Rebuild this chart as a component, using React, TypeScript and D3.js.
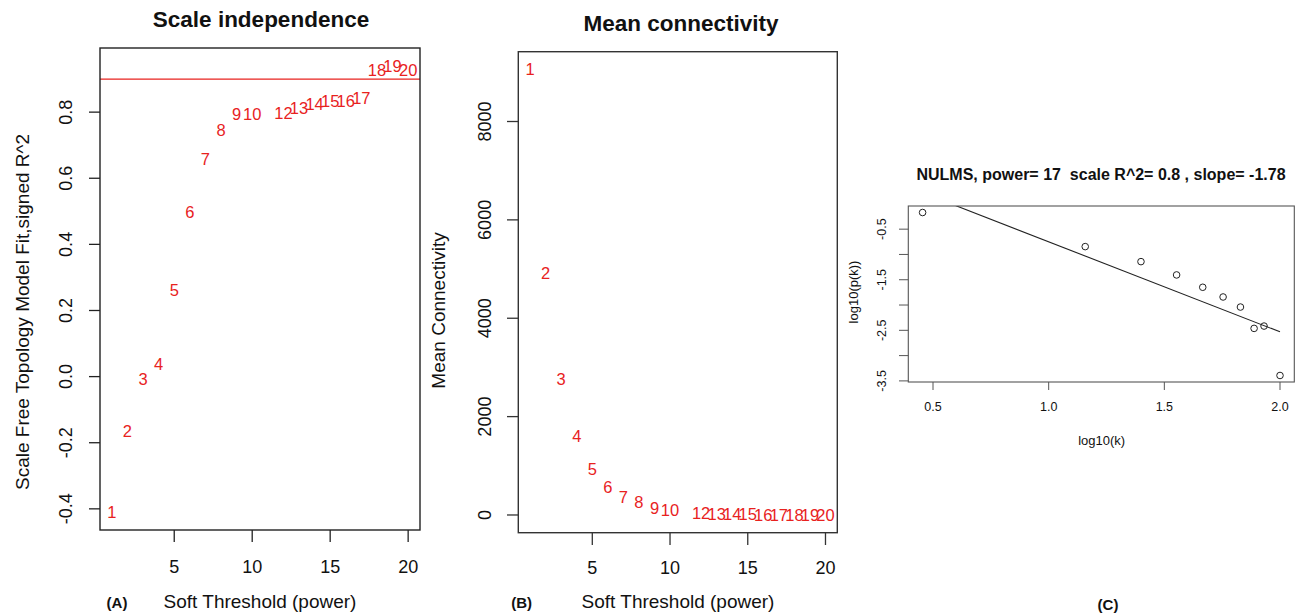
import React, { useEffect, useRef } from 'react';
import * as d3 from 'd3';

// soft thresholding powers (11 was not drawn in the original)
const powers = [1, 2, 3, 4, 5, 6, 7, 8, 9, 10, 12, 13, 14, 15, 16, 17, 18, 19, 20];
const signedR2 = [-0.41, -0.166, -0.008, 0.038, 0.262, 0.497, 0.658, 0.745, 0.795, 0.795, 0.798, 0.813, 0.825, 0.833, 0.833, 0.841, 0.928, 0.94, 0.928];
const meanK = [9057, 4915, 2753, 1594, 943, 570, 366, 252, 150, 102, 41, 20, 12, 9, 7, 5, 4, 3, 2];
const r2Cutoff = 0.9;

const powerTicks = [5, 10, 15, 20];
const r2Ticks = [-0.4, -0.2, 0, 0.2, 0.4, 0.6, 0.8];
const kTicks = [0, 2000, 4000, 6000, 8000];

// scale free plot, power 17
const log10k = [0.455, 1.158, 1.399, 1.553, 1.666, 1.754, 1.829, 1.888, 1.931, 2.0];
const log10pk = [-0.171, -0.845, -1.142, -1.405, -1.649, -1.841, -2.04, -2.462, -2.416, -3.393];
const fitSlope = -1.78;
const fitIntercept = 1.03;
const logKTicks = [0.5, 1.0, 1.5, 2.0];
const logPTicks = [-3.5, -3, -2.5, -2, -1.5, -1, -0.5];
const logPLabels = [-3.5, -2.5, -1.5, -0.5];

const FONT = "'Liberation Sans', Arial, Helvetica, sans-serif";
const RED = '#e8221e';

// R pads the data range by 4% on each side
const rRange = (vals: number[]) => {
  const [lo, hi] = d3.extent(vals) as [number, number];
  const p = (hi - lo) * 0.04;
  return [lo - p, hi + p];
};

// R prints a plain hyphen, not d3's unicode minus
const fmt1 = (v: number) => v.toFixed(1);

// text centred on (x, y) with caps/digits vertically centred
const label = (g: any, x: number, y: number, str: string, size: number, opts: any = {}) => {
  const t = g.append('text')
    .attr('font-family', FONT)
    .attr('font-size', size)
    .attr('font-weight', opts.bold ? 'bold' : 'normal')
    .attr('fill', opts.color || '#111')
    .attr('text-anchor', 'middle')
    .style('white-space', 'pre')
    .text(str);
  if (opts.rotate) {
    t.attr('transform', `translate(${x + size * 0.358},${y}) rotate(-90)`);
  } else {
    t.attr('x', x).attr('y', y + size * 0.358);
  }
  return t;
};

const App = () => {
  const ref = useRef<SVGSVGElement>(null);

  useEffect(() => {
    const svg = d3.select(ref.current);
    svg.selectAll('*').remove();

    // ---------- (A) scale independence ----------
    const a = svg.append('g');
    const xA = d3.scaleLinear().domain(rRange(powers)).range([100, 420]);
    const yA = d3.scaleLinear().domain(rRange(signedR2)).range([530, 48]);

    a.append('line')
      .attr('x1', 100).attr('x2', 420)
      .attr('y1', yA(r2Cutoff)).attr('y2', yA(r2Cutoff))
      .attr('stroke', RED).attr('stroke-width', 1.2);

    powers.forEach((p, i) => label(a, xA(p), yA(signedR2[i]), String(p), 16.5, { color: RED }));

    a.append('rect').attr('x', 100).attr('y', 48).attr('width', 320).attr('height', 482)
      .attr('fill', 'none').attr('stroke', '#222').attr('stroke-width', 1.4);

    powerTicks.forEach(t => {
      a.append('line').attr('x1', xA(t)).attr('x2', xA(t)).attr('y1', 530).attr('y2', 542)
        .attr('stroke', '#222').attr('stroke-width', 1.3);
      label(a, xA(t), 567, String(t), 18);
    });
    r2Ticks.forEach(t => {
      a.append('line').attr('x1', 89).attr('x2', 100).attr('y1', yA(t)).attr('y2', yA(t))
        .attr('stroke', '#222').attr('stroke-width', 1.3);
      label(a, 65.5, yA(t), fmt1(t), 18, { rotate: true });
    });

    label(a, 261, 18.5, 'Scale independence', 22.5, { bold: true });
    label(a, 260, 601.5, 'Soft Threshold (power)', 19);
    label(a, 22, 312, 'Scale Free Topology Model Fit,signed R^2', 19, { rotate: true });
    label(a, 117, 603, '(A)', 15, { bold: true });

    // ---------- (B) mean connectivity ----------
    const b = svg.append('g');
    const xB = d3.scaleLinear().domain(rRange(powers)).range([518.3, 837.3]);
    const yB = d3.scaleLinear().domain(rRange(meanK)).range([532.7, 51.7]);

    powers.forEach((p, i) => label(b, xB(p), yB(meanK[i]), String(p), 16.5, { color: RED }));

    b.append('rect').attr('x', 518.3).attr('y', 51.7).attr('width', 319).attr('height', 481)
      .attr('fill', 'none').attr('stroke', '#333').attr('stroke-width', 1.4);

    powerTicks.forEach(t => {
      b.append('line').attr('x1', xB(t)).attr('x2', xB(t)).attr('y1', 532.7).attr('y2', 545)
        .attr('stroke', '#333').attr('stroke-width', 1.3);
      label(b, xB(t), 568, String(t), 18);
    });
    kTicks.forEach(t => {
      b.append('line').attr('x1', 507).attr('x2', 518.3).attr('y1', yB(t)).attr('y2', yB(t))
        .attr('stroke', '#333').attr('stroke-width', 1.3);
      label(b, 484.5, yB(t), String(t), 18, { rotate: true });
    });

    label(b, 681, 22.5, 'Mean connectivity', 22.5, { bold: true });
    label(b, 678, 601.5, 'Soft Threshold (power)', 19);
    label(b, 438, 310.5, 'Mean Connectivity', 19, { rotate: true });
    label(b, 521.7, 603, '(B)', 15, { bold: true });

    // ---------- (C) scale free plot ----------
    const c = svg.append('g');
    const xC = d3.scaleLinear().domain(rRange(log10k)).range([908.3, 1294.3]);
    const yC = d3.scaleLinear().domain(rRange(log10pk)).range([382, 206]);

    c.append('clipPath').attr('id', 'clipC')
      .append('rect').attr('x', 908.3).attr('y', 206).attr('width', 386).attr('height', 176);

    const [k0, k1] = d3.extent(log10k) as [number, number];
    const fit = d3.line<number>().x(d => xC(d)).y(d => yC(fitIntercept + fitSlope * d));
    c.append('path').datum([k0, k1]).attr('d', fit)
      .attr('clip-path', 'url(#clipC)')
      .attr('fill', 'none').attr('stroke', '#222').attr('stroke-width', 1.1);

    c.selectAll('circle').data(log10k).join('circle')
      .attr('cx', d => xC(d)).attr('cy', (d, i) => yC(log10pk[i]))
      .attr('r', 3.3).attr('fill', 'none').attr('stroke', '#222').attr('stroke-width', 1);

    c.append('rect').attr('x', 908.3).attr('y', 206).attr('width', 386).attr('height', 176)
      .attr('fill', 'none').attr('stroke', '#555').attr('stroke-width', 1.1);

    logKTicks.forEach(t => {
      c.append('line').attr('x1', xC(t)).attr('x2', xC(t)).attr('y1', 382).attr('y2', 390)
        .attr('stroke', '#555').attr('stroke-width', 1);
      label(c, xC(t), 406.7, fmt1(t), 12.5);
    });
    logPTicks.forEach(t => {
      c.append('line').attr('x1', 899).attr('x2', 908.3).attr('y1', yC(t)).attr('y2', yC(t))
        .attr('stroke', '#555').attr('stroke-width', 1);
    });
    logPLabels.forEach(t => label(c, 882, yC(t), fmt1(t), 12.5, { rotate: true }));

    label(c, 1101, 174, 'NULMS, power= 17  scale R^2= 0.8 , slope= -1.78', 16, { bold: true });
    label(c, 1101.7, 440, 'log10(k)', 13);
    label(c, 853, 292, 'log10(p(k))', 13, { rotate: true });
    label(c, 1108, 605, '(C)', 15, { bold: true });
  }, []);

  return (
    <div style={{ position: 'absolute', left: 0, top: 0 }}>
      <svg ref={ref} width={1304} height={616} style={{ display: 'block', background: '#fff' }} />
    </div>
  );
};

export default App;
